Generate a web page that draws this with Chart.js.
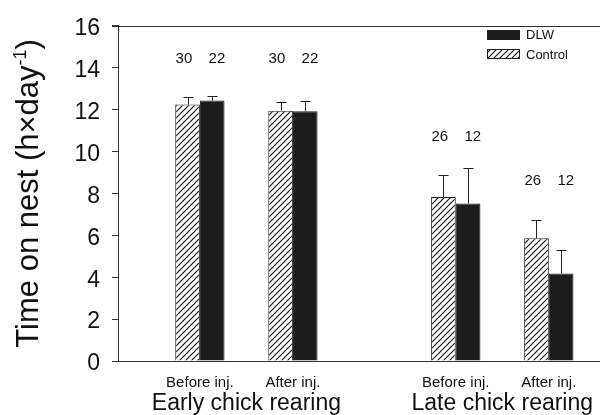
<!DOCTYPE html>
<html>
<head>
<meta charset="utf-8">
<script src="https://cdn.jsdelivr.net/npm/chart.js@4.4.1/dist/chart.umd.min.js"></script>
<style>
  html, body { margin: 0; padding: 0; background: #fff; }
</style>
</head>
<body>
<canvas id="nestChart" width="600" height="415"></canvas>
<script>
// Data
const periods = ['Before inj.', 'After inj.', 'Before inj.', 'After inj.'];
const stages = ['Early chick rearing', 'Late chick rearing'];
const periodPos = [1, 2, 3.75, 4.75];
const controlMean = [12.24, 11.95, 7.83, 5.86];
const controlErr = [0.34, 0.41, 1.05, 0.87];
const dlwMean = [12.43, 11.92, 7.52, 4.18];
const dlwErr = [0.20, 0.47, 1.68, 1.12];
const controlN = [30, 30, 26, 26];
const dlwN = [22, 22, 12, 12];
const nLabelY = [14.4, 14.4, 10.7, 8.6];

const FONT = "'Liberation Sans', Arial, Helvetica, sans-serif";
Chart.defaults.font.family = FONT;
Chart.defaults.color = '#111';

const ctx = document.getElementById('nestChart').getContext('2d');

// diagonal hatch for the control bars
function makeHatch() {
    const c = document.createElement('canvas');
    c.width = 6; c.height = 6;
    const g = c.getContext('2d');
    g.fillStyle = '#fff';
    g.fillRect(0, 0, 6, 6);
    g.strokeStyle = '#111';
    g.lineWidth = 1.1;
    g.beginPath();
    g.moveTo(0, 6); g.lineTo(6, 0);
    g.moveTo(-1, 1); g.lineTo(1, -1);
    g.moveTo(5, 7); g.lineTo(7, 5);
    g.stroke();
    return ctx.createPattern(c, 'repeat');
}
const hatch = makeHatch();

// Error bars (upper only)
const errorBars = {
    id: 'errorBars',
    afterDatasetsDraw(chart) {
        const { ctx, scales: { y } } = chart;
        ctx.save();
        ctx.strokeStyle = '#222';
        ctx.lineWidth = 1;
        chart.data.datasets.forEach((ds, di) => {
            chart.getDatasetMeta(di).data.forEach((bar, i) => {
                const top = Math.round(y.getPixelForValue(ds.data[i].y + ds.err[i])) + 0.5;
                const x = Math.round(bar.x) + 0.5;
                ctx.beginPath();
                ctx.moveTo(x, bar.y);
                ctx.lineTo(x, top);
                ctx.moveTo(x - 5, top);
                ctx.lineTo(x + 5, top);
                ctx.stroke();
            });
        });
        ctx.restore();
    }
};

// Sample sizes, stage labels, legend, frame and y title
const extras = {
    id: 'extras',
    afterDraw(chart) {
        const { ctx, chartArea: a, scales: { x, y } } = chart;
        ctx.save();

        // top frame line
        ctx.strokeStyle = '#333';
        ctx.lineWidth = 1;
        ctx.beginPath();
        ctx.moveTo(a.left - 6, Math.round(a.top) + 0.5);
        ctx.lineTo(a.right, Math.round(a.top) + 0.5);
        ctx.stroke();

        // n labels
        ctx.fillStyle = '#111';
        ctx.font = '15px ' + FONT;
        ctx.textAlign = 'center';
        ctx.textBaseline = 'middle';
        periodPos.forEach((p, i) => {
            const cx = x.getPixelForValue(p);
            const cy = y.getPixelForValue(nLabelY[i]);
            ctx.fillText(String(controlN[i]), cx - 16, cy);
            ctx.fillText(String(dlwN[i]), cx + 17, cy);
        });

        // stage labels
        ctx.font = '23px ' + FONT;
        stages.forEach((s, k) => {
            const cx = x.getPixelForValue((periodPos[2 * k] + periodPos[2 * k + 1]) / 2);
            ctx.fillText(s, cx, a.bottom + 43);
        });

        // legend
        const lx = 487;
        ctx.fillStyle = '#1c1c1c';
        ctx.fillRect(lx, 30, 33, 10);
        ctx.fillStyle = hatch;
        ctx.fillRect(lx, 49, 33, 10);
        ctx.strokeStyle = '#222';
        ctx.strokeRect(lx + 0.5, 49.5, 32, 9);
        ctx.fillStyle = '#111';
        ctx.font = '13px ' + FONT;
        ctx.textAlign = 'left';
        ctx.fillText('DLW', lx + 39, 35);
        ctx.fillText('Control', lx + 39, 55);

        // y axis title with superscript
        const main = 'Time on nest (h\u00d7day';
        const sup = '-1';
        const close = ')';
        ctx.font = '31px ' + FONT;
        const w1 = ctx.measureText(main).width;
        const w3 = ctx.measureText(close).width;
        ctx.font = '18px ' + FONT;
        const w2 = ctx.measureText(sup).width;
        const total = w1 + w2 + w3;
        ctx.translate(38, (a.top + a.bottom) / 2);
        ctx.rotate(-Math.PI / 2);
        ctx.textBaseline = 'alphabetic';
        let px = -total / 2;
        ctx.font = '31px ' + FONT;
        ctx.fillText(main, px, 0);
        px += w1;
        ctx.font = '18px ' + FONT;
        ctx.fillText(sup, px, -12);
        px += w2;
        ctx.font = '31px ' + FONT;
        ctx.fillText(close, px, 0);

        ctx.restore();
    }
};

const nestChart = new Chart(ctx, {
    type: 'bar',
    data: {
        datasets: [
            {
                label: 'Control',
                data: periodPos.map((p, i) => ({ x: p, y: controlMean[i] })),
                err: controlErr,
                backgroundColor: hatch,
                borderColor: '#222',
                borderWidth: 1,
                categoryPercentage: 0.53,
                barPercentage: 1
            },
            {
                label: 'DLW',
                data: periodPos.map((p, i) => ({ x: p, y: dlwMean[i] })),
                err: dlwErr,
                backgroundColor: '#1c1c1c',
                borderColor: '#1c1c1c',
                borderWidth: 1,
                categoryPercentage: 0.53,
                barPercentage: 1
            }
        ]
    },
    options: {
        responsive: false,
        animation: false,
        layout: { padding: { top: 24, left: 0, right: 0, bottom: 0 } },
        plugins: {
            legend: { display: false },
            tooltip: { enabled: false }
        },
        scales: {
            x: {
                type: 'linear',
                offset: false,
                min: 0.12,
                max: 5.30,
                grid: { display: false },
                border: { display: true, color: '#333', width: 1 },
                afterBuildTicks: s => { s.ticks = periodPos.map(v => ({ value: v })); },
                ticks: {
                    callback: (v, i) => periods[i],
                    font: { size: 15 },
                    padding: 5,
                    autoSkip: false,
                    maxRotation: 0
                },
                afterFit: s => { s.height = 54; }
            },
            y: {
                min: 0,
                max: 16,
                ticks: { stepSize: 2, font: { size: 23 }, padding: 12, labelOffset: 3 },
                grid: { drawOnChartArea: false, drawTicks: true, tickLength: 6, color: '#333' },
                border: { color: '#333', width: 1 },
                afterFit: s => { s.width = 118; }
            }
        }
    },
    plugins: [errorBars, extras]
});
</script>
</body>
</html>
